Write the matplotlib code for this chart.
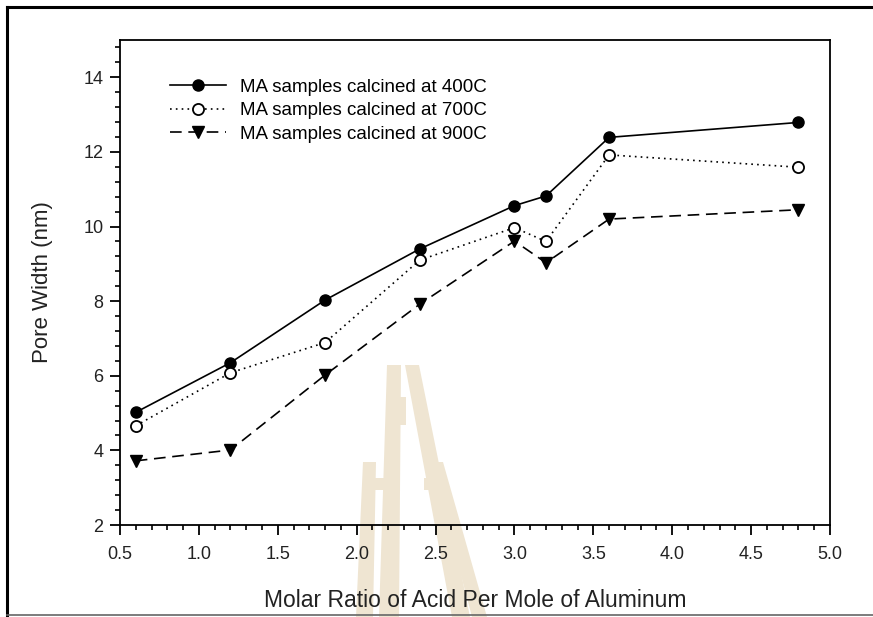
import matplotlib
matplotlib.use("Agg")
from matplotlib import pyplot as plt
from matplotlib.lines import Line2D
from matplotlib.patches import Polygon
from matplotlib.ticker import MultipleLocator

plt.rcParams['font.family'] = ['Liberation Sans', 'DejaVu Sans']

# molar ratio of acid per mole of aluminum
ratio = [0.6, 1.2, 1.8, 2.4, 3.0, 3.2, 3.6, 4.8]
# pore width (nm) for each calcination temperature
width_400 = [5.02, 6.35, 8.03, 9.40, 10.56, 10.82, 12.39, 12.79]
width_700 = [4.66, 6.08, 6.89, 9.10, 9.97, 9.60, 11.92, 11.59]
width_900 = [3.72, 4.01, 6.02, 7.92, 9.61, 9.03, 10.20, 10.45]

labels = ["MA samples calcined at 400C",
          "MA samples calcined at 700C",
          "MA samples calcined at 900C"]

W, H = 873, 617
fig = plt.figure(figsize=(W / 100, H / 100), dpi=100)


def px(x, y):
    # pixel position (from top-left) -> figure fraction
    return (x / W, 1 - y / H)


# faint logo stamp behind the plot
stamp = [
    [(363, 462), (376, 462), (373, 617), (356, 617)],
    [(387, 365), (401, 365), (399, 617), (379, 617)],
    [(405, 365), (419, 365), (470, 617), (452, 617)],
    [(431, 462), (443, 462), (487, 617), (472, 617)],
    [(400, 397), (406, 397), (406, 425), (400, 425)],
    [(374, 478), (389, 478), (389, 490), (374, 490)],
    [(424, 478), (438, 478), (438, 490), (424, 490)],
]
for pts in stamp:
    fig.add_artist(Polygon([px(*p) for p in pts], closed=True,
                           transform=fig.transFigure, facecolor='#efe5d2',
                           edgecolor='none', zorder=0))

# page border
fig.add_artist(Line2D([px(7, 7)[0], 1.01], [px(7, 7)[1]] * 2, color='black', lw=2.2))
fig.add_artist(Line2D([px(7, 7)[0]] * 2, [px(7, 7)[1], px(7, 615)[1]], color='black', lw=2.2))
fig.add_artist(Line2D([px(7, 615)[0], 1.01], [px(7, 615)[1]] * 2, color='#666666', lw=1.2))

ax = fig.add_axes([120 / W, (H - 525) / H, 710 / W, 485 / H])
ax.set_facecolor('none')

ax.plot(ratio, width_400, color='black', lw=1.2, ls='-', marker='o',
        ms=8, mfc='black', mec='black', label=labels[0])
ax.plot(ratio, width_700, color='black', lw=1.2, ls=(0, (1, 2.5)), marker='o',
        ms=8, mfc='white', mec='black', mew=1.3, label=labels[1])
ax.plot(ratio, width_900, color='black', lw=1.2, ls=(0, (7, 4)), marker='v',
        ms=8.5, mfc='black', mec='black', label=labels[2])

ax.set_xlim(0.5, 5.0)
ax.set_ylim(2, 15)
ax.xaxis.set_major_locator(MultipleLocator(0.5))
ax.xaxis.set_minor_locator(MultipleLocator(0.1))
ax.yaxis.set_major_locator(MultipleLocator(2))
ax.yaxis.set_minor_locator(MultipleLocator(0.4))
ax.set_xticklabels([f"{v:.1f}" for v in ax.get_xticks()])

ax.tick_params(which='major', direction='out', length=7, width=1.3,
               labelsize=13, colors='black', labelcolor='#222222')
ax.tick_params(axis='x', which='major', pad=8)
ax.tick_params(axis='y', which='major', pad=5)
ax.tick_params(which='minor', direction='out', length=3.5, width=1.2)
ax.tick_params(top=False, right=False, which='both')
for sp in ax.spines.values():
    sp.set_linewidth(1.3)

ax.set_xlabel("Molar Ratio of Acid Per Mole of Aluminum", fontsize=16.5,
              color='#222222', labelpad=19)
ax.set_ylabel("Pore Width (nm)", fontsize=16, color='#222222', labelpad=22)

ax.legend(loc='upper left', bbox_to_anchor=(0.07, 0.92), frameon=False,
          fontsize=13.5, handlelength=3.0, handletextpad=0.75, labelspacing=0.33,
          borderpad=0, borderaxespad=0)

fig.savefig("out.png", dpi=100)
